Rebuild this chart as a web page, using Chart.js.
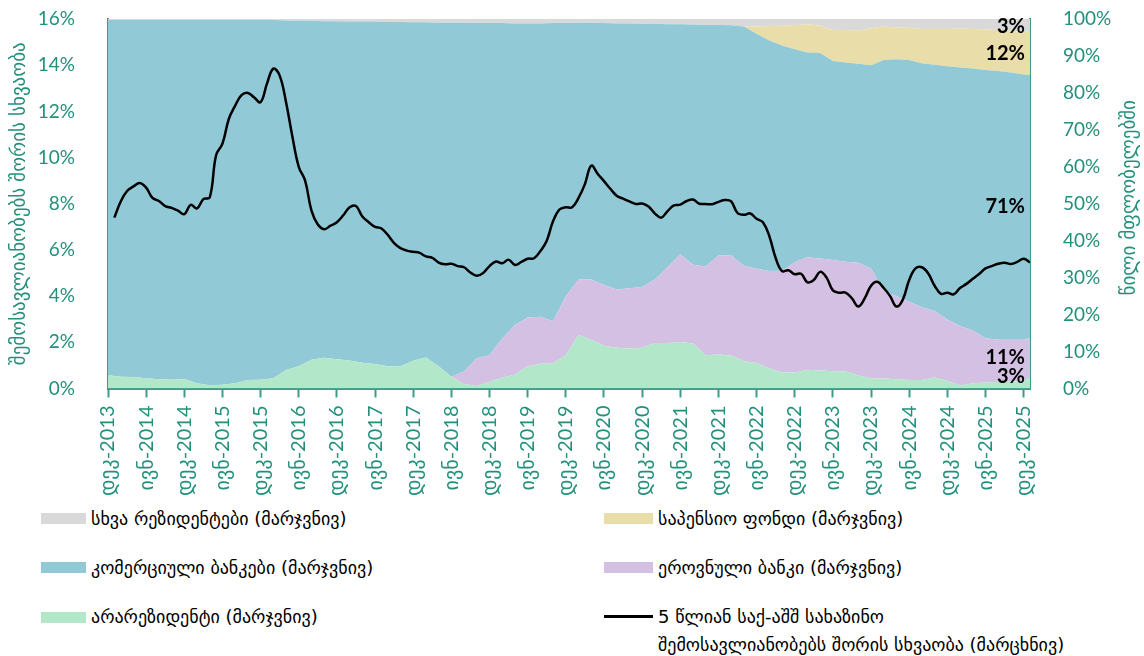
<!DOCTYPE html>
<html>
<head>
<meta charset="utf-8">
<script src="https://cdn.jsdelivr.net/npm/chart.js@4.4.1/dist/chart.umd.min.js"></script>
<style>
  body { margin: 0; background: #fff; width: 1144px; height: 656px; overflow: hidden; }
  #wrap { position: absolute; left: 0; top: 0; width: 1144px; height: 505px; }
  .legend { position: absolute; left: 0; top: 0; font-family: "DejaVu Sans", sans-serif; font-size: 18px; color: #000; }
  .sw { position: absolute; height: 11px; }
  .txt { position: absolute; white-space: nowrap; line-height: 28px; }
</style>
</head>
<body>
<div id="wrap"><canvas id="chart" width="1144" height="505"></canvas></div>
<div class="legend">
  <div class="sw" style="left:41px;top:513px;width:45px;background:#d9d9d9"></div>
  <div class="txt" style="left:91px;top:505px">სხვა რეზიდენტები (მარჯვნივ)</div>
  <div class="sw" style="left:41px;top:562px;width:45px;background:#92c9d6"></div>
  <div class="txt" style="left:91px;top:554px">კომერციული ბანკები (მარჯვნივ)</div>
  <div class="sw" style="left:41px;top:612px;width:45px;background:#b3e7c9"></div>
  <div class="txt" style="left:91px;top:603px">არარეზიდენტი (მარჯვნივ)</div>
  <div class="sw" style="left:604px;top:513px;width:49px;background:#e9dda9"></div>
  <div class="txt" style="left:658px;top:505px">საპენსიო ფონდი (მარჯვნივ)</div>
  <div class="sw" style="left:604px;top:562px;width:49px;background:#d4c0e2"></div>
  <div class="txt" style="left:658px;top:554px">ეროვნული ბანკი (მარჯვნივ)</div>
  <div class="sw" style="left:604px;top:615px;width:49px;height:2.5px;background:#000"></div>
  <div class="txt" style="left:658px;top:603px">5 წლიან საქ-აშშ სახაზინო<br>შემოსავლიანობებს შორის სხვაობა (მარცხნივ)</div>
</div>
<script>
// month index: 0 = Dec 2013
const tickLabels = ['დეკ-2013','ივნ-2014','დეკ-2014','ივნ-2015','დეკ-2015','ივნ-2016','დეკ-2016','ივნ-2017','დეკ-2017',
  'ივნ-2018','დეკ-2018','ივნ-2019','დეკ-2019','ივნ-2020','დეკ-2020','ივნ-2021','დეკ-2021','ივნ-2022','დეკ-2022',
  'ივნ-2023','დეკ-2023','ივნ-2024','დეკ-2024','ივნ-2025','დეკ-2025'];

// shares (right axis), every second month
const areaMonths = [0,2,4,6,8,10,12,14,16,18,20,22,24,26,28,30,32,34,36,38,40,42,44,46,48,50,52,54,56,58,60,62,64,66,68,70,
  72,74,76,78,80,82,84,86,88,90,92,94,96,98,100,102,104,106,108,110,112,114,116,118,120,122,124,126,128,130,132,134,136,138,140,142,144,145];
const nonResidents = [3.6,3.2,3.1,2.8,2.5,2.4,2.6,1.4,0.9,1.0,1.4,2.3,2.4,2.8,5.0,6.0,7.8,8.3,7.9,7.6,7.0,6.6,6.0,6.0,7.5,8.4,6.0,3.2,
  1.2,0.7,1.8,2.9,3.8,6.0,6.7,6.8,9.0,14.5,13.2,11.6,11.0,10.8,11.0,12.3,12.3,12.6,12.2,9.0,9.2,8.9,7.4,6.9,5.5,4.3,4.3,5.1,4.9,4.7,
  4.6,3.5,2.8,2.7,2.5,2.3,2.3,3.0,2.0,0.8,1.4,1.6,1.8,1.9,2.0,2.9];
const nationalBank = [0,0,0,0,0,0,0,0,0,0,0,0,0,0,0,0,0,0,0,0,0,0,0,0,0,0,0,0,
  3.4,7.5,7.2,10.6,13.4,13.2,12.7,11.4,16.0,15.0,16.3,16.4,15.8,16.3,16.5,17.2,20.5,23.7,21.3,24.0,26.8,27.1,25.8,25.5,26.3,27.6,
  29.9,30.4,30.3,30.1,29.7,30.5,29.7,23.6,22.5,21.2,19.7,18.0,16.7,16.1,14.3,12.0,11.4,11.3,11.2,10.9];
const commercialBanks = [96.1,96.5,96.6,96.9,97.2,97.3,97.1,98.3,98.8,98.7,98.3,97.4,97.3,96.9,94.6,93.5,91.7,91.1,91.5,91.7,92.3,92.7,
  93.2,93.2,91.6,90.7,93.0,95.8,94.4,90.7,89.9,85.4,81.6,79.6,79.4,80.7,73.9,69.5,69.5,70.9,72.0,71.7,71.2,69.2,65.8,62.3,65.0,65.4,
  62.4,62.3,64.8,63.6,62.4,60.9,57.6,55.4,55.6,53.8,53.9,53.9,55.0,62.6,64.1,65.4,66.0,66.6,68.5,70.0,70.9,72.6,72.7,72.3,71.8,71.0];
const pensionFund = [0,0,0,0,0,0,0,0,0,0,0,0,0,0,0,0,0,0,0,0,0,0,0,0,0,0,0,0,0,0,0,0,0,0,0,0,0,0,0,0,0,0,0,0,0,0,0,0,0,0,0,
  2.0,3.9,5.4,6.5,7.7,7.4,8.4,8.8,9.0,10.0,9.1,8.6,8.7,9.3,9.7,10.1,10.5,10.7,11.0,11.1,11.3,11.5,11.8];
const otherResidents = [0.3,0.3,0.3,0.3,0.3,0.3,0.3,0.3,0.3,0.3,0.3,0.3,0.3,0.3,
  0.4,0.5,0.5,0.6,0.6,0.7,0.7,0.7,0.8,0.8,0.9,0.9,1.0,1.0,1.0,1.1,1.1,1.1,1.2,1.2,1.2,1.1,1.1,1.0,1.0,1.1,1.2,1.2,1.3,1.3,
  1.4,1.4,1.5,1.6,1.6,1.7,2.0,2.0,1.9,1.8,1.7,1.4,1.8,3.0,3.0,3.1,2.5,2.0,2.3,2.4,2.7,2.7,2.7,2.6,2.7,2.8,3.0,3.2,3.5,3.4];

// 5y GEO-US treasury yield spread (left axis), monthly from month 0
const spread = [null,7.4,8.1,8.55,8.75,8.9,8.7,8.25,8.12,7.9,7.82,
  7.7,7.55,7.95,7.8,8.2,8.27,10.1,10.6,11.67,12.25,
  12.7,12.8,12.6,12.4,13.2,13.85,13.55,12.4,10.9,9.6,
  9.0,7.7,7.1,6.9,7.05,7.2,7.5,7.85,7.9,7.45,
  7.2,7.0,6.93,6.65,6.3,6.08,5.97,5.92,5.87,5.72,
  5.66,5.45,5.38,5.4,5.3,5.25,5.02,4.88,5.0,5.3,
  5.5,5.42,5.58,5.35,5.48,5.62,5.64,5.95,6.4,7.25,
  7.75,7.85,7.85,8.25,8.85,9.65,9.3,8.98,8.65,8.35,
  8.22,8.1,7.99,8.01,7.88,7.58,7.4,7.68,7.93,7.96,
  8.12,8.18,8.0,7.99,7.98,8.08,8.16,8.1,7.6,7.52,
  7.58,7.35,7.2,6.6,5.65,5.08,5.12,4.95,4.97,4.6,
  4.7,5.05,4.8,4.25,4.15,4.15,3.9,3.55,3.9,4.45,
  4.62,4.35,4.0,3.55,3.85,4.7,5.2,5.25,4.98,4.45,
  4.1,4.15,4.08,4.35,4.53,4.75,4.96,5.2,5.3,5.4,
  5.45,5.39,5.48,5.62,5.46];

const teal = '#23907c';
const tealLine = '#3a9c89';
const tickFont = { family: 'Lato, "DejaVu Sans", sans-serif', size: 19 };

function area(label, values, color, fill) {
  return {
    label, yAxisID: 'yR', order: 1,
    data: areaMonths.map((m, i) => ({ x: m, y: values[i] })),
    backgroundColor: color, borderWidth: 0, pointRadius: 0, tension: 0, fill
  };
}

const shareSets = [
  area('არარეზიდენტი', nonResidents, '#b3e7c9', 'origin'),
  area('ეროვნული ბანკი', nationalBank, '#d4c0e2', '-1'),
  area('კომერციული ბანკები', commercialBanks, '#92c9d6', '-1'),
  area('საპენსიო ფონდი', pensionFund, '#e9dda9', '-1'),
  area('სხვა რეზიდენტები', otherResidents, '#d9d9d9', '-1')
];

// end-of-series % labels and right-hand title
const extras = {
  id: 'extras',
  afterDatasetsDraw(chart) {
    const { ctx, chartArea, scales } = chart;
    ctx.save();
    ctx.font = 'bold 20px Lato, sans-serif';
    ctx.fillStyle = '#000';
    ctx.textAlign = 'right';
    ctx.textBaseline = 'middle';
    let base = 0;
    shareSets.forEach(ds => {
      const v = ds.data[ds.data.length - 1].y;
      let y = scales.yR.getPixelForValue(base + v / 2);
      y = Math.max(chartArea.top + 8, Math.min(chartArea.bottom - 12, y));
      ctx.fillText(Math.round(v) + '%', chartArea.right - 5, y);
      base += v;
    });
    ctx.restore();
  },
  afterDraw(chart) {
    const { ctx, chartArea } = chart;
    ctx.save();
    ctx.translate(1130, (chartArea.top + chartArea.bottom) / 2 - 6);
    ctx.rotate(-Math.PI / 2);
    ctx.font = '19px "DejaVu Sans", sans-serif';
    ctx.fillStyle = teal;
    ctx.textAlign = 'center';
    ctx.textBaseline = 'middle';
    ctx.fillText('წილი მფლობელებში', 0, 0);
    ctx.restore();
  }
};

// keep the tick padding from pushing the chart area down
function fixVertical(width) {
  return s => { s.width = width; s.paddingTop = 0; s.paddingBottom = 0; };
}

new Chart(document.getElementById('chart'), {
  type: 'line',
  data: {
    datasets: [...shareSets, {
      label: '5 წლიან საქ-აშშ სახაზინო შემოსავლიანობებს შორის სხვაობა',
      yAxisID: 'y', order: 0,
      data: spread.map((v, i) => ({ x: i, y: v })),
      borderColor: '#000', borderWidth: 2.5, pointRadius: 0, tension: 0.4, fill: false
    }]
  },
  options: {
    responsive: false,
    animation: false,
    layout: { padding: { top: 19 } },
    plugins: { legend: { display: false }, tooltip: { enabled: false } },
    scales: {
      x: {
        type: 'linear', min: 0, max: 145,
        border: { color: tealLine, width: 2 },
        grid: { drawOnChartArea: false, tickColor: tealLine, tickWidth: 2, tickLength: 9 },
        ticks: {
          stepSize: 6, includeBounds: false, autoSkip: false, minRotation: 90, maxRotation: 90,
          color: teal, font: { family: 'Lato, "DejaVu Sans", sans-serif', size: 20 }, padding: 8,
          callback: v => tickLabels[v / 6]
        },
        afterFit: s => { s.height = 505 - 388.5; }
      },
      y: {
        position: 'left', min: 0, max: 16,
        border: { color: tealLine, width: 2 },
        grid: { display: false },
        ticks: { stepSize: 2, color: teal, font: tickFont, padding: 25, callback: v => v + '%' },
        title: {
          display: true, text: 'შემოსავლიანობებს შორის სხვაობა', color: teal,
          font: { family: '"DejaVu Sans", sans-serif', size: 19 }, padding: { top: 9 }
        },
        afterFit: fixVertical(108)
      },
      yR: {
        position: 'right', stacked: true, min: 0, max: 100,
        border: { color: tealLine, width: 2 },
        grid: { display: false },
        ticks: { stepSize: 10, color: teal, font: tickFont, padding: 25, callback: v => v + '%' },
        afterFit: fixVertical(114)
      }
    }
  },
  plugins: [extras]
});
</script>
</body>
</html>
